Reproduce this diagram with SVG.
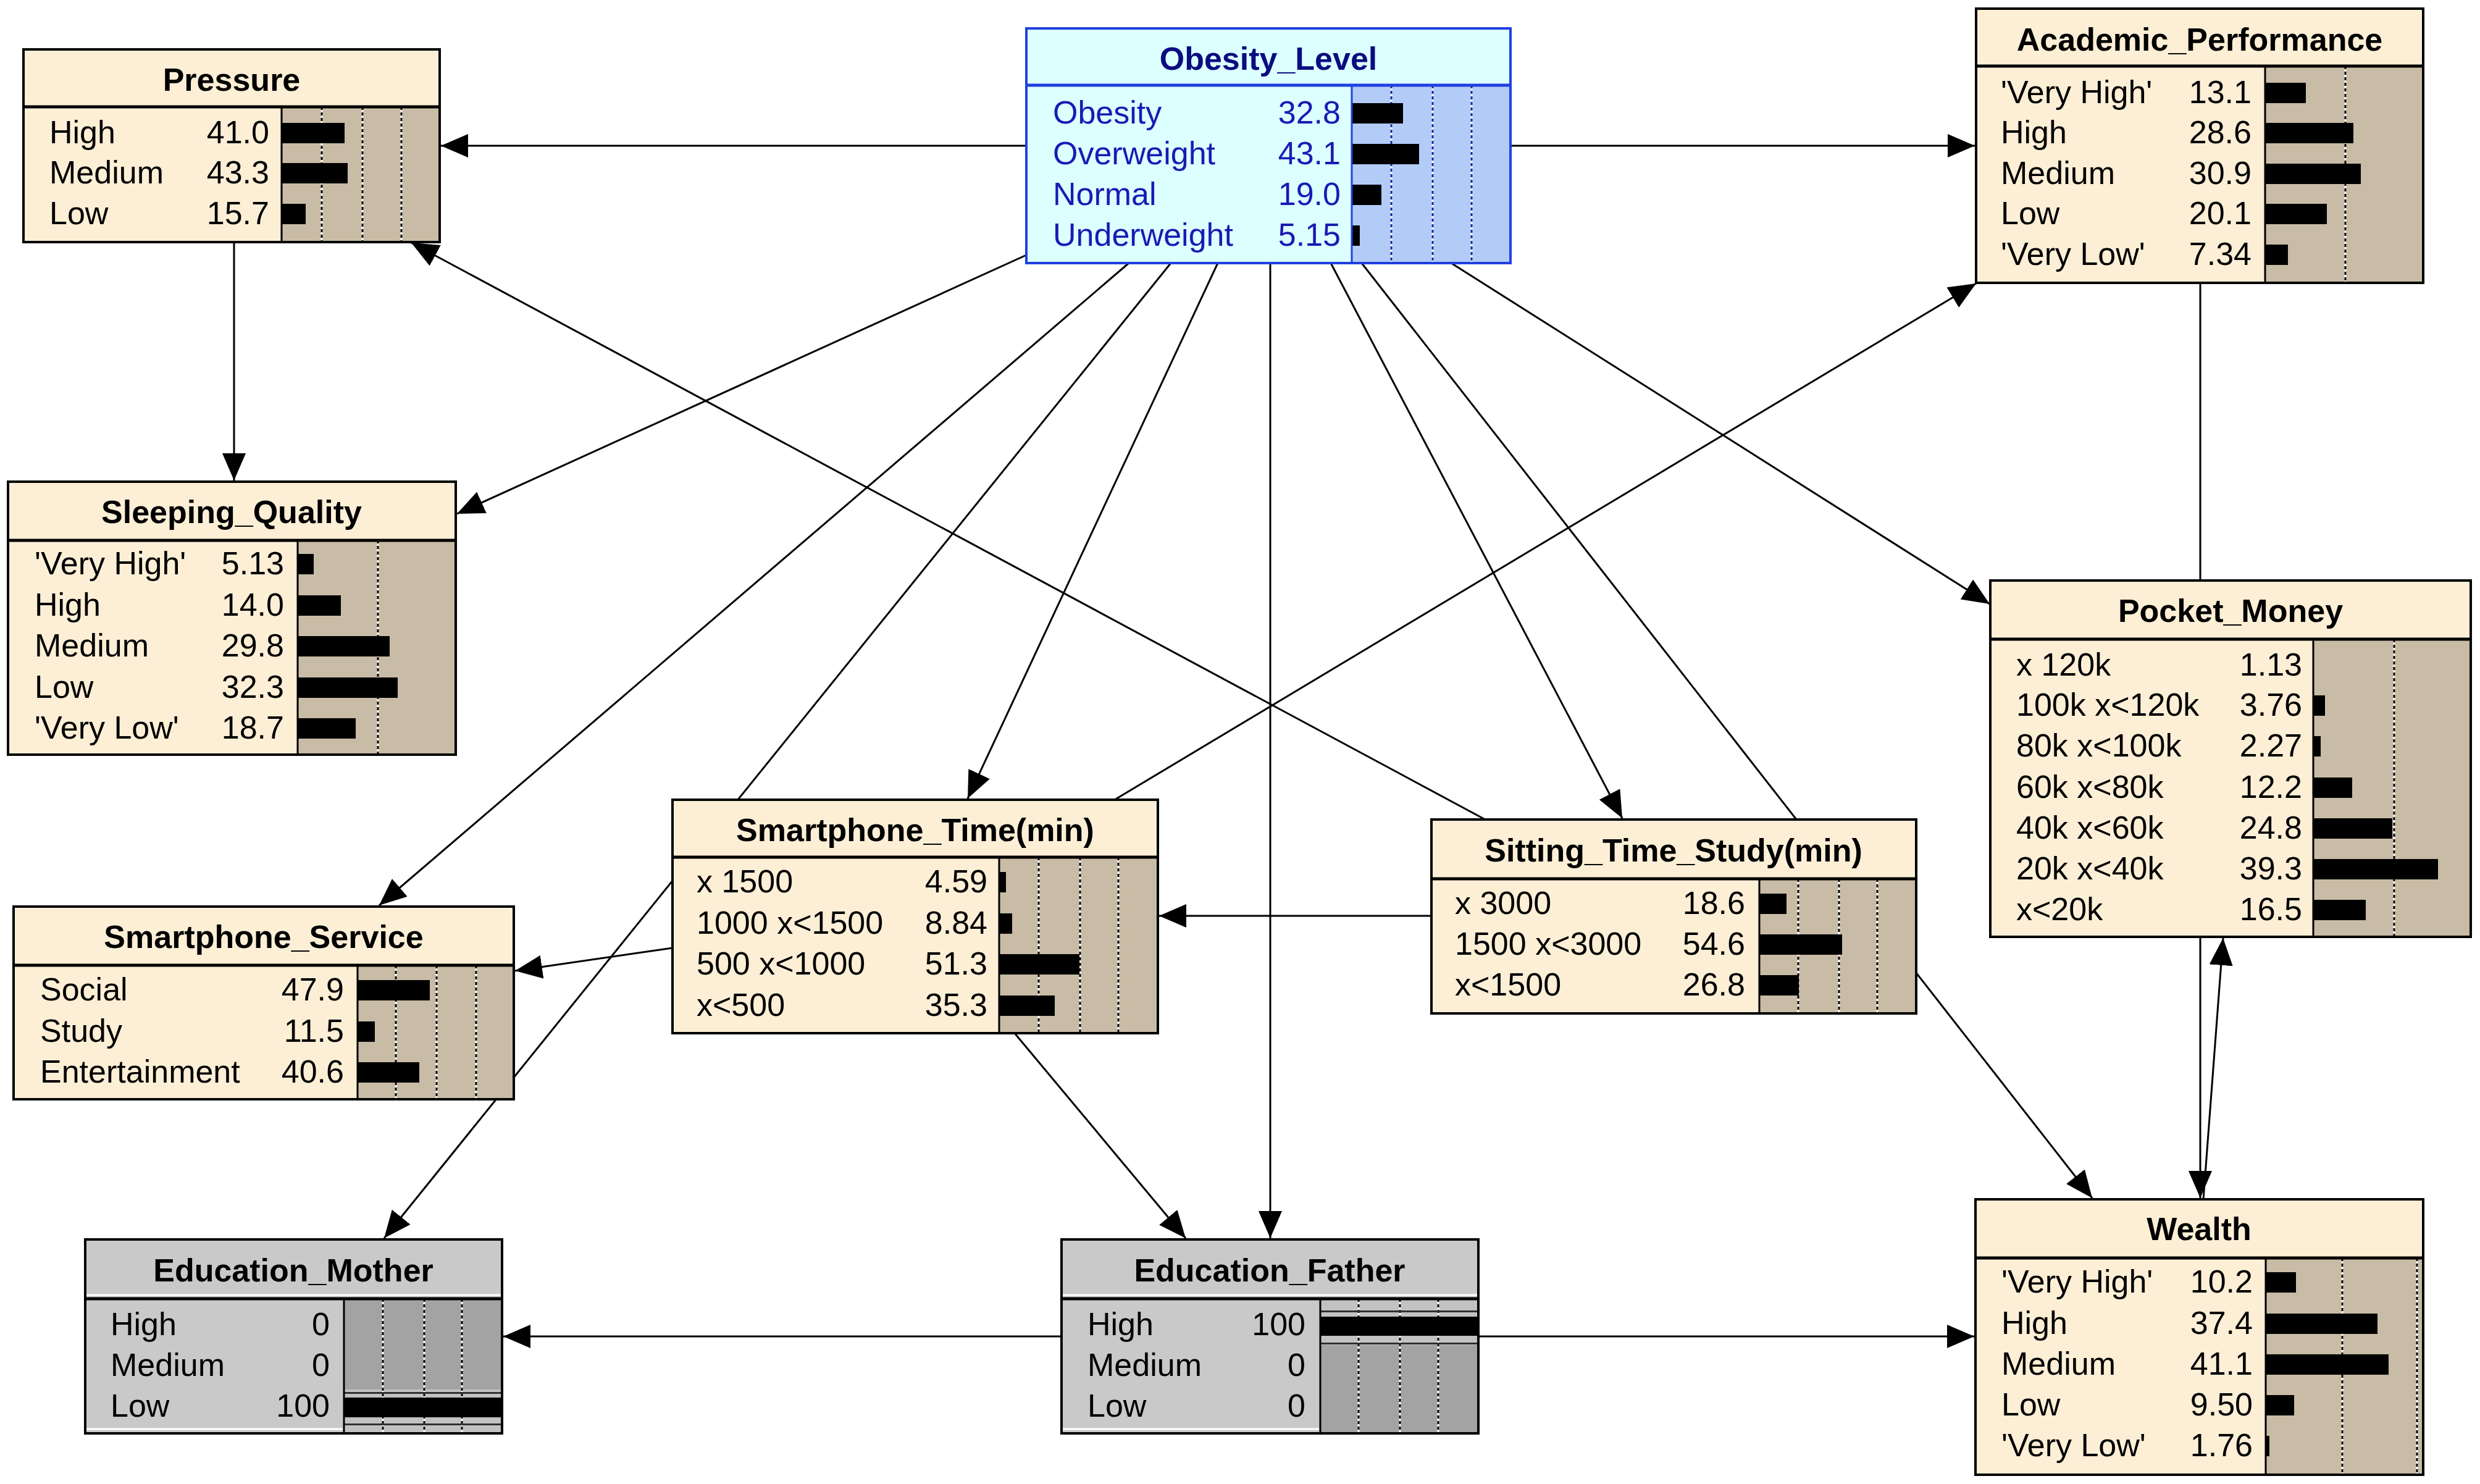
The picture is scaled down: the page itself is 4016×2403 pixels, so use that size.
<svg xmlns="http://www.w3.org/2000/svg" width="4016" height="2403" viewBox="0 0 4016 2403">
<defs>
<style>
.t{font-family:"Liberation Sans",Arial,sans-serif;font-size:52px;fill:#000}
.ti{font-weight:bold;text-anchor:middle}
.v{text-anchor:end}
.bd{fill:#fcefd6}
.ba{fill:#c8bca6}
.fr{fill:none;stroke:#000;stroke-width:4}
.sp{stroke:#000;stroke-width:5}
.vs{stroke:#000;stroke-width:3}
.dw{stroke:#fff;stroke-width:3}
.dk{stroke:#000;stroke-width:3;stroke-dasharray:5 4}
.bar{fill:#000}
.edge{stroke:#000;stroke-width:3;fill:none}
.arr{marker-end:url(#ah)}
.ob .t{fill:#1a1ab4}
.ob .ti{fill:#0c0c80}
.ob .bd{fill:#dcffff}
.ob .ba{fill:#b3ccf7}
.ob .fr,.ob .sp,.ob .vs{stroke:#2040e0}
.ob .dk{stroke:#1828a0}
.ed .bd{fill:#c9c9c9}
.ed .ba{fill:#a3a3a3}
.hl{stroke:#fff;stroke-width:3}
.ls{fill:#c2c2c2}
.dl{fill:#303030}
</style>
<marker id="ah" markerUnits="userSpaceOnUse" markerWidth="44" markerHeight="38" refX="44" refY="19" orient="auto" viewBox="0 0 44 38"><path d="M0,0 L44,19 L0,38 z" fill="#000"/></marker>
</defs>
<rect x="0" y="0" width="4016" height="2403" fill="#fff"/>

<g id="connectors">
<line class="edge arr" x1="1662" y1="236" x2="714" y2="236"/>
<line class="edge arr" x1="2446" y1="236" x2="3198" y2="236"/>
<line class="edge arr" x1="379" y1="392" x2="379" y2="778"/>
<line class="edge arr" x1="1662" y1="413" x2="740" y2="832"/>
<line class="edge arr" x1="1828" y1="426" x2="614" y2="1466"/>
<line class="edge arr" x1="1896" y1="426" x2="622" y2="2005"/>
<line class="edge arr" x1="1972" y1="426" x2="1567" y2="1293"/>
<line class="edge arr" x1="2057" y1="426" x2="2057" y2="2005"/>
<line class="edge arr" x1="2155" y1="426" x2="2627" y2="1325"/>
<line class="edge arr" x1="2205" y1="426" x2="3388" y2="1940"/>
<line class="edge arr" x1="2350" y1="426" x2="3222" y2="978"/>
<line class="edge arr" x1="2405" y1="1327" x2="666" y2="393"/>
<line class="edge arr" x1="1805" y1="1295" x2="3200" y2="459"/>
<line class="edge arr" x1="3563" y1="458" x2="3563" y2="1940"/>
<line class="edge arr" x1="3568" y1="1942" x2="3600" y2="1519"/>
<line class="edge arr" x1="2318" y1="1483" x2="1877" y2="1483"/>
<line class="edge arr" x1="1089" y1="1535" x2="834" y2="1572"/>
<line class="edge arr" x1="1643" y1="1673" x2="1920" y2="2005"/>
<line class="edge arr" x1="1719" y1="2164" x2="815" y2="2164"/>
<line class="edge arr" x1="2394" y1="2164" x2="3197" y2="2164"/>
</g>

<g id="node-pressure">
<rect class="bd" x="38" y="80" width="674" height="312"/>
<rect class="ba" x="456" y="173" width="256" height="219"/>
<line class="dw" x1="521" y1="173" x2="521" y2="392"/><line class="dk" x1="521" y1="173" x2="521" y2="392"/>
<line class="dw" x1="587" y1="173" x2="587" y2="392"/><line class="dk" x1="587" y1="173" x2="587" y2="392"/>
<line class="dw" x1="650" y1="173" x2="650" y2="392"/><line class="dk" x1="650" y1="173" x2="650" y2="392"/>
<rect class="bar" x="456" y="199" width="102" height="33"/>
<rect class="bar" x="456" y="264" width="107" height="33"/>
<rect class="bar" x="456" y="330" width="39" height="33"/>
<line class="sp" x1="38" y1="173" x2="712" y2="173"/>
<line class="vs" x1="456" y1="173" x2="456" y2="392"/>
<rect class="fr" x="38" y="80" width="674" height="312"/>
<text class="t ti" x="375" y="147">Pressure</text>
<text class="t" x="80" y="232">High</text><text class="t v" x="436" y="232">41.0</text>
<text class="t" x="80" y="297">Medium</text><text class="t v" x="436" y="297">43.3</text>
<text class="t" x="80" y="363">Low</text><text class="t v" x="436" y="363">15.7</text>
</g>

<g id="node-obesity-level" class="ob">
<rect class="bd" x="1662" y="46" width="784" height="380"/>
<rect class="ba" x="2189" y="138" width="257" height="288"/>
<line class="dw" x1="2253" y1="138" x2="2253" y2="426"/><line class="dk" x1="2253" y1="138" x2="2253" y2="426"/>
<line class="dw" x1="2320" y1="138" x2="2320" y2="426"/><line class="dk" x1="2320" y1="138" x2="2320" y2="426"/>
<line class="dw" x1="2383" y1="138" x2="2383" y2="426"/><line class="dk" x1="2383" y1="138" x2="2383" y2="426"/>
<rect class="bar" x="2189" y="167" width="83" height="33"/>
<rect class="bar" x="2189" y="233" width="109" height="33"/>
<rect class="bar" x="2189" y="299" width="48" height="33"/>
<rect class="bar" x="2189" y="365" width="13" height="33"/>
<line class="sp" x1="1662" y1="138" x2="2446" y2="138"/>
<line class="vs" x1="2189" y1="138" x2="2189" y2="426"/>
<rect class="fr" x="1662" y="46" width="784" height="380"/>
<text class="t ti" x="2054" y="113">Obesity_Level</text>
<text class="t" x="1705" y="200">Obesity</text><text class="t v" x="2171" y="200">32.8</text>
<text class="t" x="1705" y="266">Overweight</text><text class="t v" x="2171" y="266">43.1</text>
<text class="t" x="1705" y="332">Normal</text><text class="t v" x="2171" y="332">19.0</text>
<text class="t" x="1705" y="398">Underweight</text><text class="t v" x="2171" y="398">5.15</text>
</g>

<g id="node-academic-performance">
<rect class="bd" x="3200" y="14" width="724" height="444"/>
<rect class="ba" x="3668" y="107" width="256" height="351"/>
<line class="dw" x1="3798" y1="107" x2="3798" y2="458"/><line class="dk" x1="3798" y1="107" x2="3798" y2="458"/>
<rect class="bar" x="3668" y="134" width="66" height="33"/>
<rect class="bar" x="3668" y="199" width="143" height="33"/>
<rect class="bar" x="3668" y="265" width="155" height="33"/>
<rect class="bar" x="3668" y="330" width="100" height="33"/>
<rect class="bar" x="3668" y="396" width="37" height="33"/>
<line class="sp" x1="3200" y1="107" x2="3924" y2="107"/>
<line class="vs" x1="3668" y1="107" x2="3668" y2="458"/>
<rect class="fr" x="3200" y="14" width="724" height="444"/>
<text class="t ti" x="3562" y="82">Academic_Performance</text>
<text class="t" x="3240" y="167">'Very High'</text><text class="t v" x="3646" y="167">13.1</text>
<text class="t" x="3240" y="232">High</text><text class="t v" x="3646" y="232">28.6</text>
<text class="t" x="3240" y="298">Medium</text><text class="t v" x="3646" y="298">30.9</text>
<text class="t" x="3240" y="363">Low</text><text class="t v" x="3646" y="363">20.1</text>
<text class="t" x="3240" y="429">'Very Low'</text><text class="t v" x="3646" y="429">7.34</text>
</g>

<g id="node-sleeping-quality">
<rect class="bd" x="13" y="780" width="725" height="442"/>
<rect class="ba" x="482" y="875" width="256" height="347"/>
<line class="dw" x1="612" y1="875" x2="612" y2="1222"/><line class="dk" x1="612" y1="875" x2="612" y2="1222"/>
<rect class="bar" x="482" y="897" width="26" height="33"/>
<rect class="bar" x="482" y="964" width="70" height="33"/>
<rect class="bar" x="482" y="1030" width="149" height="33"/>
<rect class="bar" x="482" y="1097" width="162" height="33"/>
<rect class="bar" x="482" y="1163" width="94" height="33"/>
<line class="sp" x1="13" y1="875" x2="738" y2="875"/>
<line class="vs" x1="482" y1="875" x2="482" y2="1222"/>
<rect class="fr" x="13" y="780" width="725" height="442"/>
<text class="t ti" x="375" y="847">Sleeping_Quality</text>
<text class="t" x="56" y="930">'Very High'</text><text class="t v" x="460" y="930">5.13</text>
<text class="t" x="56" y="997">High</text><text class="t v" x="460" y="997">14.0</text>
<text class="t" x="56" y="1063">Medium</text><text class="t v" x="460" y="1063">29.8</text>
<text class="t" x="56" y="1130">Low</text><text class="t v" x="460" y="1130">32.3</text>
<text class="t" x="56" y="1196">'Very Low'</text><text class="t v" x="460" y="1196">18.7</text>
</g>

<g id="node-smartphone-time">
<rect class="bd" x="1089" y="1295" width="786" height="378"/>
<rect class="ba" x="1618" y="1388" width="257" height="285"/>
<line class="dw" x1="1682" y1="1388" x2="1682" y2="1673"/><line class="dk" x1="1682" y1="1388" x2="1682" y2="1673"/>
<line class="dw" x1="1749" y1="1388" x2="1749" y2="1673"/><line class="dk" x1="1749" y1="1388" x2="1749" y2="1673"/>
<line class="dw" x1="1811" y1="1388" x2="1811" y2="1673"/><line class="dk" x1="1811" y1="1388" x2="1811" y2="1673"/>
<rect class="bar" x="1618" y="1412" width="11" height="33"/>
<rect class="bar" x="1618" y="1479" width="21" height="33"/>
<rect class="bar" x="1618" y="1545" width="130" height="33"/>
<rect class="bar" x="1618" y="1612" width="90" height="33"/>
<line class="sp" x1="1089" y1="1388" x2="1875" y2="1388"/>
<line class="vs" x1="1618" y1="1388" x2="1618" y2="1673"/>
<rect class="fr" x="1089" y="1295" width="786" height="378"/>
<text class="t ti" x="1482" y="1362">Smartphone_Time(min)</text>
<text class="t" x="1128" y="1445">x 1500</text><text class="t v" x="1599" y="1445">4.59</text>
<text class="t" x="1128" y="1512">1000 x&lt;1500</text><text class="t v" x="1599" y="1512">8.84</text>
<text class="t" x="1128" y="1578">500 x&lt;1000</text><text class="t v" x="1599" y="1578">51.3</text>
<text class="t" x="1128" y="1645">x&lt;500</text><text class="t v" x="1599" y="1645">35.3</text>
</g>

<g id="node-sitting-time-study">
<rect class="bd" x="2318" y="1327" width="785" height="314"/>
<rect class="ba" x="2849" y="1423" width="254" height="218"/>
<line class="dw" x1="2912" y1="1423" x2="2912" y2="1641"/><line class="dk" x1="2912" y1="1423" x2="2912" y2="1641"/>
<line class="dw" x1="2978" y1="1423" x2="2978" y2="1641"/><line class="dk" x1="2978" y1="1423" x2="2978" y2="1641"/>
<line class="dw" x1="3040" y1="1423" x2="3040" y2="1641"/><line class="dk" x1="3040" y1="1423" x2="3040" y2="1641"/>
<rect class="bar" x="2849" y="1447" width="44" height="33"/>
<rect class="bar" x="2849" y="1513" width="134" height="33"/>
<rect class="bar" x="2849" y="1579" width="64" height="33"/>
<line class="sp" x1="2318" y1="1423" x2="3103" y2="1423"/>
<line class="vs" x1="2849" y1="1423" x2="2849" y2="1641"/>
<rect class="fr" x="2318" y="1327" width="785" height="314"/>
<text class="t ti" x="2710" y="1395">Sitting_Time_Study(min)</text>
<text class="t" x="2356" y="1480">x 3000</text><text class="t v" x="2826" y="1480">18.6</text>
<text class="t" x="2356" y="1546">1500 x&lt;3000</text><text class="t v" x="2826" y="1546">54.6</text>
<text class="t" x="2356" y="1612">x&lt;1500</text><text class="t v" x="2826" y="1612">26.8</text>
</g>

<g id="node-pocket-money">
<rect class="bd" x="3223" y="940" width="778" height="577"/>
<rect class="ba" x="3746" y="1035" width="255" height="482"/>
<line class="dw" x1="3877" y1="1035" x2="3877" y2="1517"/><line class="dk" x1="3877" y1="1035" x2="3877" y2="1517"/>
<rect class="bar" x="3746" y="1126" width="19" height="33"/>
<rect class="bar" x="3746" y="1192" width="12" height="33"/>
<rect class="bar" x="3746" y="1259" width="63" height="33"/>
<rect class="bar" x="3746" y="1325" width="128" height="33"/>
<rect class="bar" x="3746" y="1391" width="202" height="33"/>
<rect class="bar" x="3746" y="1457" width="85" height="33"/>
<line class="sp" x1="3223" y1="1035" x2="4001" y2="1035"/>
<line class="vs" x1="3746" y1="1035" x2="3746" y2="1517"/>
<rect class="fr" x="3223" y="940" width="778" height="577"/>
<text class="t ti" x="3612" y="1007">Pocket_Money</text>
<text class="t" x="3265" y="1094">x 120k</text><text class="t v" x="3728" y="1094">1.13</text>
<text class="t" x="3265" y="1159">100k x&lt;120k</text><text class="t v" x="3728" y="1159">3.76</text>
<text class="t" x="3265" y="1225">80k x&lt;100k</text><text class="t v" x="3728" y="1225">2.27</text>
<text class="t" x="3265" y="1292">60k x&lt;80k</text><text class="t v" x="3728" y="1292">12.2</text>
<text class="t" x="3265" y="1358">40k x&lt;60k</text><text class="t v" x="3728" y="1358">24.8</text>
<text class="t" x="3265" y="1424">20k x&lt;40k</text><text class="t v" x="3728" y="1424">39.3</text>
<text class="t" x="3265" y="1490">x&lt;20k</text><text class="t v" x="3728" y="1490">16.5</text>
</g>

<g id="node-smartphone-service">
<rect class="bd" x="22" y="1468" width="810" height="312"/>
<rect class="ba" x="579" y="1563" width="253" height="217"/>
<line class="dw" x1="641" y1="1563" x2="641" y2="1780"/><line class="dk" x1="641" y1="1563" x2="641" y2="1780"/>
<line class="dw" x1="707" y1="1563" x2="707" y2="1780"/><line class="dk" x1="707" y1="1563" x2="707" y2="1780"/>
<line class="dw" x1="771" y1="1563" x2="771" y2="1780"/><line class="dk" x1="771" y1="1563" x2="771" y2="1780"/>
<rect class="bar" x="579" y="1587" width="117" height="33"/>
<rect class="bar" x="579" y="1654" width="28" height="33"/>
<rect class="bar" x="579" y="1720" width="100" height="33"/>
<line class="sp" x1="22" y1="1563" x2="832" y2="1563"/>
<line class="vs" x1="579" y1="1563" x2="579" y2="1780"/>
<rect class="fr" x="22" y="1468" width="810" height="312"/>
<text class="t ti" x="427" y="1535">Smartphone_Service</text>
<text class="t" x="65" y="1620">Social</text><text class="t v" x="557" y="1620">47.9</text>
<text class="t" x="65" y="1687">Study</text><text class="t v" x="557" y="1687">11.5</text>
<text class="t" x="65" y="1753">Entertainment</text><text class="t v" x="557" y="1753">40.6</text>
</g>

<g id="node-education-mother" class="ed">
<rect class="bd" x="138" y="2007" width="675" height="314"/>
<rect class="ba" x="557" y="2103" width="256" height="218"/>
<rect class="ls" x="557" y="2250" width="256" height="69"/>
<line class="dw" x1="620" y1="2103" x2="620" y2="2321"/><line class="dk" x1="620" y1="2103" x2="620" y2="2321"/>
<line class="dw" x1="687" y1="2103" x2="687" y2="2321"/><line class="dk" x1="687" y1="2103" x2="687" y2="2321"/>
<line class="dw" x1="748" y1="2103" x2="748" y2="2321"/><line class="dk" x1="748" y1="2103" x2="748" y2="2321"/>
<rect class="dl" x="557" y="2254" width="256" height="3"/>
<rect class="bar" x="557" y="2263" width="256" height="32"/>
<rect class="dl" x="557" y="2305" width="256" height="3"/>
<line class="hl" x1="140" y1="2097" x2="811" y2="2097"/>
<line class="hl" x1="140" y1="2314" x2="555" y2="2314"/>
<line class="sp" x1="138" y1="2103" x2="813" y2="2103"/>
<line class="vs" x1="557" y1="2103" x2="557" y2="2321"/>
<rect class="fr" x="138" y="2007" width="675" height="314"/>
<text class="t ti" x="475" y="2075">Education_Mother</text>
<text class="t" x="179" y="2162">High</text><text class="t v" x="534" y="2162">0</text>
<text class="t" x="179" y="2228">Medium</text><text class="t v" x="534" y="2228">0</text>
<text class="t" x="179" y="2294">Low</text><text class="t v" x="534" y="2294">100</text>
</g>

<g id="node-education-father" class="ed">
<rect class="bd" x="1719" y="2007" width="675" height="314"/>
<rect class="ba" x="2138" y="2103" width="256" height="218"/>
<rect class="ls" x="2138" y="2105" width="256" height="73"/>
<line class="dw" x1="2200" y1="2103" x2="2200" y2="2321"/><line class="dk" x1="2200" y1="2103" x2="2200" y2="2321"/>
<line class="dw" x1="2267" y1="2103" x2="2267" y2="2321"/><line class="dk" x1="2267" y1="2103" x2="2267" y2="2321"/>
<line class="dw" x1="2329" y1="2103" x2="2329" y2="2321"/><line class="dk" x1="2329" y1="2103" x2="2329" y2="2321"/>
<rect class="dl" x="2138" y="2122" width="256" height="3"/>
<rect class="bar" x="2138" y="2132" width="256" height="31"/>
<rect class="dl" x="2138" y="2174" width="256" height="3"/>
<line class="hl" x1="1721" y1="2097" x2="2392" y2="2097"/>
<line class="hl" x1="1721" y1="2314" x2="2136" y2="2314"/>
<line class="sp" x1="1719" y1="2103" x2="2394" y2="2103"/>
<line class="vs" x1="2138" y1="2103" x2="2138" y2="2321"/>
<rect class="fr" x="1719" y="2007" width="675" height="314"/>
<text class="t ti" x="2056" y="2075">Education_Father</text>
<text class="t" x="1761" y="2162">High</text><text class="t v" x="2114" y="2162">100</text>
<text class="t" x="1761" y="2228">Medium</text><text class="t v" x="2114" y="2228">0</text>
<text class="t" x="1761" y="2294">Low</text><text class="t v" x="2114" y="2294">0</text>
</g>

<g id="node-wealth">
<rect class="bd" x="3199" y="1942" width="725" height="446"/>
<rect class="ba" x="3669" y="2037" width="255" height="351"/>
<line class="dw" x1="3793" y1="2037" x2="3793" y2="2388"/><line class="dk" x1="3793" y1="2037" x2="3793" y2="2388"/>
<line class="dw" x1="3914" y1="2037" x2="3914" y2="2388"/><line class="dk" x1="3914" y1="2037" x2="3914" y2="2388"/>
<rect class="bar" x="3669" y="2060" width="49" height="33"/>
<rect class="bar" x="3669" y="2127" width="181" height="33"/>
<rect class="bar" x="3669" y="2193" width="199" height="33"/>
<rect class="bar" x="3669" y="2259" width="46" height="33"/>
<rect class="bar" x="3669" y="2325" width="6" height="33"/>
<line class="sp" x1="3199" y1="2037" x2="3924" y2="2037"/>
<line class="vs" x1="3669" y1="2037" x2="3669" y2="2388"/>
<rect class="fr" x="3199" y="1942" width="725" height="446"/>
<text class="t ti" x="3561" y="2008">Wealth</text>
<text class="t" x="3241" y="2093">'Very High'</text><text class="t v" x="3648" y="2093">10.2</text>
<text class="t" x="3241" y="2160">High</text><text class="t v" x="3648" y="2160">37.4</text>
<text class="t" x="3241" y="2226">Medium</text><text class="t v" x="3648" y="2226">41.1</text>
<text class="t" x="3241" y="2292">Low</text><text class="t v" x="3648" y="2292">9.50</text>
<text class="t" x="3241" y="2358">'Very Low'</text><text class="t v" x="3648" y="2358">1.76</text>
</g>
</svg>
